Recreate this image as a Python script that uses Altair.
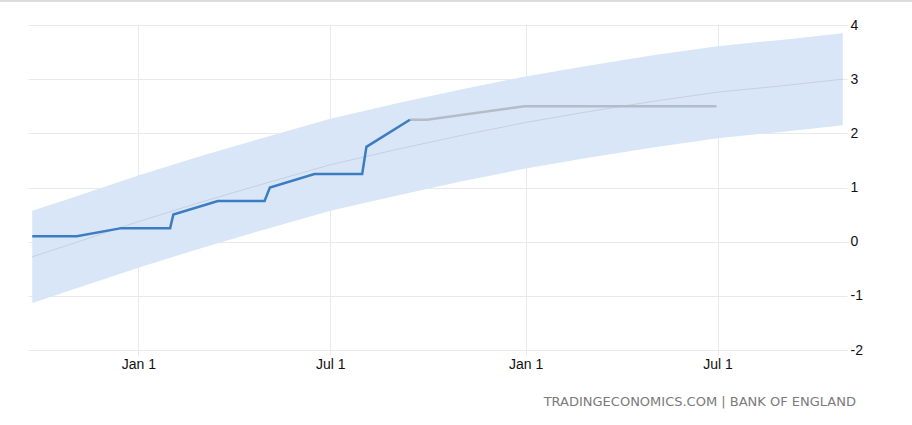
import altair as alt
import pandas as pd

# Actual Bank Rate (blue)
actual_dates = ["2021-09-23", "2021-11-04", "2021-12-16", "2022-01-31", "2022-02-03",
                "2022-03-17", "2022-04-30", "2022-05-05", "2022-06-16", "2022-07-31",
                "2022-08-04", "2022-09-14"]
actual_vals = [0.1, 0.1, 0.25, 0.25, 0.5, 0.75, 0.75, 1.0, 1.25, 1.25, 1.75, 2.25]

# Forecast (gray)
fc_dates = ["2022-09-14", "2022-09-30", "2022-12-31", "2023-03-31", "2023-06-30"]
fc_vals = [2.25, 2.25, 2.5, 2.5, 2.5]

# Trend band
band_dates = ["2021-09-23", "2021-11-01", "2022-01-01", "2022-03-01", "2022-05-01",
              "2022-07-01", "2022-09-01", "2022-11-01", "2023-01-01", "2023-03-01",
              "2023-05-01", "2023-07-01", "2023-09-01", "2023-10-27"]
band_mid = [-0.28, -0.03, 0.37, 0.73, 1.08, 1.42, 1.70, 1.96, 2.20, 2.40, 2.59, 2.76, 2.88, 3.00]
band_hi = [0.57, 0.82, 1.22, 1.58, 1.93, 2.27, 2.55, 2.81, 3.05, 3.25, 3.44, 3.61, 3.73, 3.85]
band_lo = [-1.13, -0.88, -0.48, -0.12, 0.23, 0.57, 0.85, 1.11, 1.35, 1.55, 1.74, 1.91, 2.03, 2.15]

x_ticks = ["2022-01-01", "2022-07-01", "2023-01-01", "2023-07-01"]
y_ticks = [-2, -1, 0, 1, 2, 3, 4]
source_text = "TRADINGECONOMICS.COM | BANK OF ENGLAND"

actual = pd.DataFrame({"date": pd.to_datetime(actual_dates), "v": actual_vals})
fc = pd.DataFrame({"date": pd.to_datetime(fc_dates), "v": fc_vals})
band = pd.DataFrame({"date": pd.to_datetime(band_dates), "mid": band_mid,
                     "hi": band_hi, "lo": band_lo})

xscale = alt.Scale(domain=[pd.Timestamp("2021-09-19").isoformat(),
                           pd.Timestamp("2023-10-31").isoformat()])
yscale = alt.Scale(domain=[-2, 4], nice=False, zero=False)

xaxis = alt.Axis(values=[pd.Timestamp(d).isoformat() for d in x_ticks],
                 format="%b %-d", title=None, grid=True, gridColor="#e9e9e9",
                 domain=False, ticks=True, tickColor="#e9e9e9", tickSize=5,
                 labelFont="Liberation Sans", labelFontSize=14, labelColor="#111111",
                 labelPadding=2)
yaxis = alt.Axis(orient="right", values=y_ticks, title=None, grid=True,
                 gridColor="#e9e9e9", domain=False, ticks=False,
                 labelExpr="'' + datum.value",
                 labelFont="Liberation Sans", labelFontSize=14, labelColor="#111111",
                 labelPadding=3, labelAlign="left")

area = alt.Chart(band).mark_area(color="#d8e6f8", opacity=1).encode(
    x=alt.X("date:T", scale=xscale, axis=xaxis),
    y=alt.Y("hi:Q", scale=yscale, axis=yaxis),
    y2="lo:Q",
)
mid = alt.Chart(band).mark_line(color="#c6d1de", strokeWidth=1).encode(
    x=alt.X("date:T", scale=xscale),
    y=alt.Y("mid:Q", scale=yscale),
)
fline = alt.Chart(fc).mark_line(color="#b4bcc7", strokeWidth=2.5).encode(
    x=alt.X("date:T", scale=xscale),
    y=alt.Y("v:Q", scale=yscale),
)
aline = alt.Chart(actual).mark_line(color="#3c7cc0", strokeWidth=2.5).encode(
    x=alt.X("date:T", scale=xscale),
    y=alt.Y("v:Q", scale=yscale),
)
src = alt.Chart(pd.DataFrame({"t": [source_text]})).mark_text(
    align="right", baseline="alphabetic", font="DejaVu Sans", fontSize=13,
    color="#7a7a7a", clip=False,
).encode(text="t:N", x=alt.value(828), y=alt.value(381))
topline = alt.Chart(pd.DataFrame({"a": [0]})).mark_rule(
    color="#dcdcdc", strokeWidth=2, clip=False
).encode(x=alt.value(-28), x2=alt.value(884), y=alt.value(-24))

chart = alt.layer(area, mid, fline, aline, src, topline).properties(
    width=819, height=325,
    padding={"left": 28, "top": 25, "right": 65, "bottom": 75},
    autosize=alt.AutoSizeParams(type="none"),
    background="white",
).configure_view(stroke=None)

chart.save("out.html", embed_options={"renderer": "svg", "actions": False})
